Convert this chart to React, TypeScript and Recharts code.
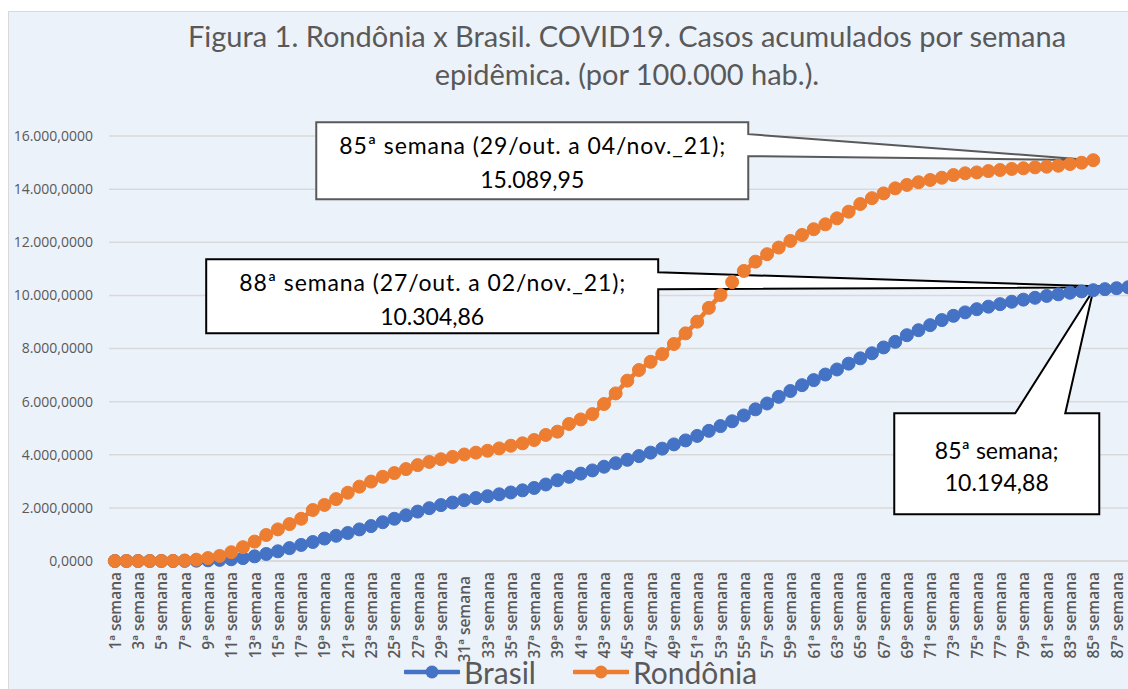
import React from 'react';
import { LineChart, Line, XAxis, YAxis, CartesianGrid, ReferenceDot, Legend } from 'recharts';

// 88 epidemiological weeks on the category axis
const weeks = Array.from({ length: 88 }, (_, i) => `${i + 1}ª semana${i === 30 ? ' ' : ''}`);

// cumulative cases per 100.000 inhabitants
const brasil = [
  0, 0, 0, 0.1, 0.6, 2, 5, 12, 25, 42,
  65, 110, 175, 265, 365, 485, 605, 715, 845, 950,
  1055, 1190, 1315, 1460, 1590, 1720, 1860, 1990, 2105, 2200,
  2290, 2370, 2440, 2510, 2580, 2660, 2750, 2880, 3040, 3170,
  3290, 3410, 3550, 3680, 3810, 3950, 4080, 4230, 4390, 4540,
  4710, 4900, 5080, 5260, 5480, 5710, 5930, 6180, 6400, 6620,
  6810, 7020, 7210, 7430, 7630, 7820, 8040, 8250, 8500, 8690,
  8880, 9070, 9230, 9360, 9480, 9575, 9670, 9760, 9840, 9910,
  9980, 10040, 10100, 10150, 10194.88, 10235, 10270, 10304.86,
];

const rondonia = [
  0, 0, 0, 0, 0.5, 5, 20, 50, 110, 190,
  330, 520, 730, 980, 1190, 1390, 1590, 1920, 2110, 2330,
  2570, 2800, 2990, 3170, 3310, 3460, 3610, 3730, 3830, 3920,
  4010, 4080, 4150, 4240, 4340, 4430, 4555, 4745, 4870, 5160,
  5330, 5530, 5910, 6310, 6790, 7190, 7500, 7790, 8170, 8570,
  9010, 9530, 10010, 10500, 10920, 11270, 11550, 11800, 12050, 12275,
  12490, 12675, 12900, 13150, 13440, 13660, 13840, 14030, 14160, 14260,
  14345, 14430, 14530, 14595, 14630, 14680, 14720, 14760, 14785, 14820,
  14845, 14880, 14945, 14995, 15089.95,
];

const yTicks = [0, 2000, 4000, 6000, 8000, 10000, 12000, 14000, 16000];

const BLUE = '#4472C4';
const ORANGE = '#ED7D31';
const GRAY = '#595959';
const TXT_FONT = 'Lato, "Open Sans", sans-serif';
const AXIS_FONT = '"Open Sans", sans-serif';

const data = weeks.map((w, i) => ({
  week: w,
  brasil: brasil[i],
  rondonia: i < rondonia.length ? rondonia[i] : null,
}));

const fmtBR = (v: number) => {
  const int = Math.floor(v).toString().replace(/\B(?=(\d{3})+(?!\d))/g, '.');
  return `${int},0000`;
};

const XTick = (props: any) => {
  const { x, y, payload } = props;
  return (
    <text
      transform={`translate(${x},${y + 11}) rotate(-90)`}
      textAnchor="end"
      dominantBaseline="central"
      fill={GRAY}
      fontFamily={AXIS_FONT}
      fontWeight={600}
      fontSize={15.5}
      style={{ whiteSpace: 'pre' }}
    >
      {payload.value}
    </text>
  );
};

// callout box with a wedge pointing at the data point
const CalloutLeft = (props: any) => {
  const { cx, cy, l, r, t, b, w1, w2, lines, stroke } = props;
  const L = cx + l, R = cx + r, T = cy + t, B = cy + b;
  const d = `M${L},${T} L${R},${T} L${R},${cy + w1} L${cx},${cy} L${R},${cy + w2} L${R},${B} L${L},${B} Z`;
  const mid = (L + R) / 2;
  return (
    <g>
      <path d={d} fill="#fff" stroke={stroke} strokeWidth={2} strokeLinejoin="miter" />
      {lines.map((s: string, i: number) => (
        <text key={i} x={mid} y={T + 23 + i * 34} textAnchor="middle" dominantBaseline="central"
          fontFamily={TXT_FONT} fontSize={23} fill="#000"
          textLength={i === 0 ? 386 : undefined} lengthAdjust="spacing">{s}</text>
      ))}
    </g>
  );
};

const CalloutBelow = (props: any) => {
  const { cx, cy, lines } = props;
  const L = cx - 199, R = cx + 6, T = cy + 123, B = cy + 224;
  const d = `M${L},${T} L${cx - 78},${T} L${cx},${cy} L${cx - 28},${T} L${R},${T} L${R},${B} L${L},${B} Z`;
  const mid = (L + R) / 2;
  return (
    <g>
      <path d={d} fill="#fff" stroke="#000" strokeWidth={2} />
      {lines.map((s: string, i: number) => (
        <text key={i} x={mid} y={T + 37 + i * 32} textAnchor="middle" dominantBaseline="central"
          fontFamily={TXT_FONT} fontSize={23} fill="#000">{s}</text>
      ))}
    </g>
  );
};

const legendItems = [
  { name: 'Brasil', color: BLUE, width: 169 },
  { name: 'Rondônia', color: ORANGE, width: 200 },
];

const renderLegend = () => (
  <div style={{ display: 'flex', alignItems: 'center', fontFamily: TXT_FONT, fontSize: 30, color: GRAY }}>
    {legendItems.map((it) => (
      <div key={it.name} style={{ display: 'flex', alignItems: 'center', width: it.width, flexShrink: 0 }}>
        <svg width={56} height={16}>
          <line x1={1} y1={8} x2={55} y2={8} stroke={it.color} strokeWidth={4.5} strokeLinecap="round" />
          <circle cx={28} cy={8} r={6.5} fill={it.color} />
        </svg>
        <span style={{ marginLeft: 4, lineHeight: '32px' }}>{it.name}</span>
      </div>
    ))}
  </div>
);

export default function App() {
  return (
    <div style={{ position: 'fixed', left: 0, top: 0, width: 1128, height: 689, overflow: 'hidden', background: '#fff' }}>
      <div style={{
        position: 'absolute', left: 8, top: 11, width: 1140, height: 700,
        background: '#ECF2FA', borderLeft: '1.5px solid #D9D9D9', borderTop: '1.5px solid #D9D9D9',
      }} />
      <div style={{
        position: 'absolute', left: 0, top: 17, width: 1254, textAlign: 'center',
        fontFamily: TXT_FONT, fontSize: 29, lineHeight: '38px', color: GRAY,
      }}>
        Figura 1. Rondônia x Brasil. COVID19. Casos acumulados por semana<br />
        epidêmica. (por 100.000 hab.).
      </div>
      <div style={{ position: 'absolute', left: 0, top: 0 }}>
        <LineChart width={1140} height={689} data={data} margin={{ top: 136, right: 6, bottom: 37, left: 0 }}>
          <CartesianGrid vertical={false} stroke="#D9D9D9" strokeWidth={1.5} />
          <XAxis
            dataKey="week"
            interval={1}
            tick={<XTick />}
            tickSize={0}
            tickMargin={0}
            height={91}
            padding={{ left: 5.8, right: 5.8 }}
            axisLine={{ stroke: '#D9D9D9', strokeWidth: 1.5 }}
            tickLine={false}
          />
          <YAxis
            width={109}
            domain={[0, 16000]}
            ticks={yTicks}
            tickFormatter={fmtBR}
            tickSize={0}
            tickMargin={16}
            axisLine={false}
            tickLine={false}
            tick={{ fill: GRAY, fontSize: 14, fontFamily: AXIS_FONT }}
          />
          <Line
            dataKey="brasil"
            name="Brasil"
            stroke={BLUE}
            strokeWidth={4.5}
            dot={{ r: 6.5, fill: BLUE, stroke: BLUE, strokeWidth: 1 }}
            activeDot={false}
            isAnimationActive={false}
          />
          <Line
            dataKey="rondonia"
            name="Rondônia"
            stroke={ORANGE}
            strokeWidth={4.5}
            dot={{ r: 6.5, fill: ORANGE, stroke: ORANGE, strokeWidth: 1 }}
            activeDot={false}
            isAnimationActive={false}
          />
          <ReferenceDot
            x={weeks[84]}
            y={rondonia[84]}
            r={7}
            ifOverflow="visible"
            shape={(p: any) => (
              <CalloutLeft cx={p.cx} cy={p.cy} l={-777} r={-345} t={-38} b={39} w1={-26} w2={-4}
                stroke={GRAY} lines={['85ª semana (29/out. a 04/nov._21);', '15.089,95']} />
            )}
          />
          <ReferenceDot
            x={weeks[87]}
            y={brasil[87]}
            r={7}
            ifOverflow="visible"
            shape={(p: any) => (
              <CalloutLeft cx={p.cx} cy={p.cy} l={-922} r={-470} t={-28} b={46} w1={-15} w2={2}
                stroke="#000" lines={['88ª semana (27/out. a 02/nov._21);', '10.304,86']} />
            )}
          />
          <ReferenceDot
            x={weeks[84]}
            y={brasil[84]}
            r={7}
            ifOverflow="visible"
            shape={(p: any) => (
              <CalloutBelow cx={p.cx} cy={p.cy} lines={['85ª semana;', '10.194,88']} />
            )}
          />
          <Legend
            verticalAlign="middle"
            layout="horizontal"
            content={renderLegend}
            wrapperStyle={{ left: 404, top: 656, width: 460 }}
          />
        </LineChart>
      </div>
    </div>
  );
}
